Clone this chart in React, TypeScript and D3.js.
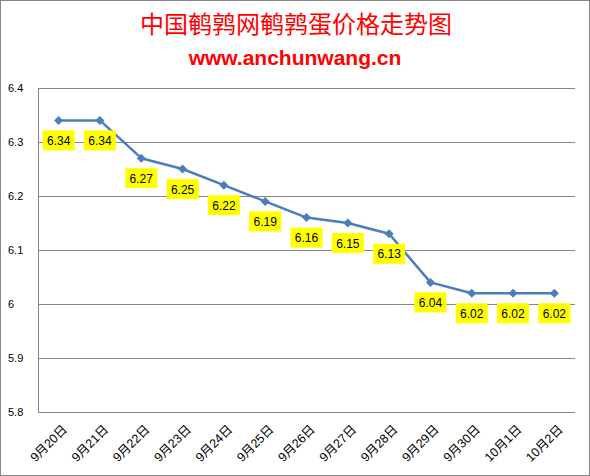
import React from "react";
import * as d3 from "d3";

const dates = ["9月20日", "9月21日", "9月22日", "9月23日", "9月24日", "9月25日", "9月26日", "9月27日", "9月28日", "9月29日", "9月30日", "10月1日", "10月2日"];
const prices = [6.34, 6.34, 6.27, 6.25, 6.22, 6.19, 6.16, 6.15, 6.13, 6.04, 6.02, 6.02, 6.02];
const yTicks = [5.8, 5.9, 6, 6.1, 6.2, 6.3, 6.4];

const W = 590;
const H = 476;
const margin = { top: 88, right: 15, bottom: 64, left: 38 };

export default function App() {
  const x = d3.scaleBand<string>().domain(dates).range([margin.left, W - margin.right]);
  const y = d3.scaleLinear().domain([5.8, 6.4]).range([H - margin.bottom, margin.top]);
  const cx = (d: string) => (x(d) || 0) + x.bandwidth() / 2;
  const line = d3
    .line<number>()
    .x((_, i) => cx(dates[i]))
    .y((v) => y(v));
  // square rotated 45deg, like Excel's diamond marker
  const diamond = "M0,-4.5L4.5,0L0,4.5L-4.5,0Z";

  return (
    <svg width={W} height={H} style={{ position: "absolute", left: 0, top: 0, background: "#fff" }}>
      <rect x={0.5} y={0.5} width={W - 1} height={H - 1} fill="#fff" stroke="#868686" />
      <text x={296} y={33} textAnchor="middle" fill="#ff0000" fontSize={24} fontFamily="'Noto Sans CJK SC'">
        中国鹌鹑网鹌鹑蛋价格走势图
      </text>
      <text x={295} y={65} textAnchor="middle" fill="#ff0000" fontSize={21} fontWeight="bold" fontFamily="'Liberation Sans', sans-serif">
        www.anchunwang.cn
      </text>

      {/* grid */}
      {yTicks.map((t) => (
        <g key={t}>
          <line x1={margin.left} x2={W - margin.right} y1={Math.round(y(t)) + 0.5} y2={Math.round(y(t)) + 0.5} stroke="#868686" />
          <text x={8} y={y(t)} dy="0.35em" fontSize={11} fontFamily="'Liberation Sans', sans-serif" fill="#000">
            {String(t)}
          </text>
        </g>
      ))}
      <line x1={margin.left + 0.5} x2={margin.left + 0.5} y1={y(6.4)} y2={y(5.8)} stroke="#868686" />

      {/* x labels */}
      {dates.map((d) => (
        <text
          key={d}
          transform={`translate(${cx(d) + 3},${H - margin.bottom + 12}) rotate(-45)`}
          textAnchor="end"
          dy="0.7em"
          fontSize={12.5}
          fontFamily="'Liberation Sans', 'Noto Sans CJK SC', sans-serif"
          fill="#000"
        >
          {d}
        </text>
      ))}

      <path d={line(prices) || ""} fill="none" stroke="#4a7ebb" strokeWidth={2.5} strokeLinejoin="round" />
      {prices.map((v, i) => (
        <path key={i} d={diamond} transform={`translate(${cx(dates[i])},${y(v)})`} fill="#4a7ebb" />
      ))}

      {/* data labels */}
      {prices.map((v, i) => (
        <g key={"l" + i} transform={`translate(${cx(dates[i])},${y(v) + 20})`}>
          <rect x={-16} y={-10} width={32} height={20} fill="#ffff00" />
          <text textAnchor="middle" dy="0.38em" fontSize={12} fontFamily="'Liberation Sans', sans-serif" fill="#000">
            {v.toFixed(2)}
          </text>
        </g>
      ))}
    </svg>
  );
}
